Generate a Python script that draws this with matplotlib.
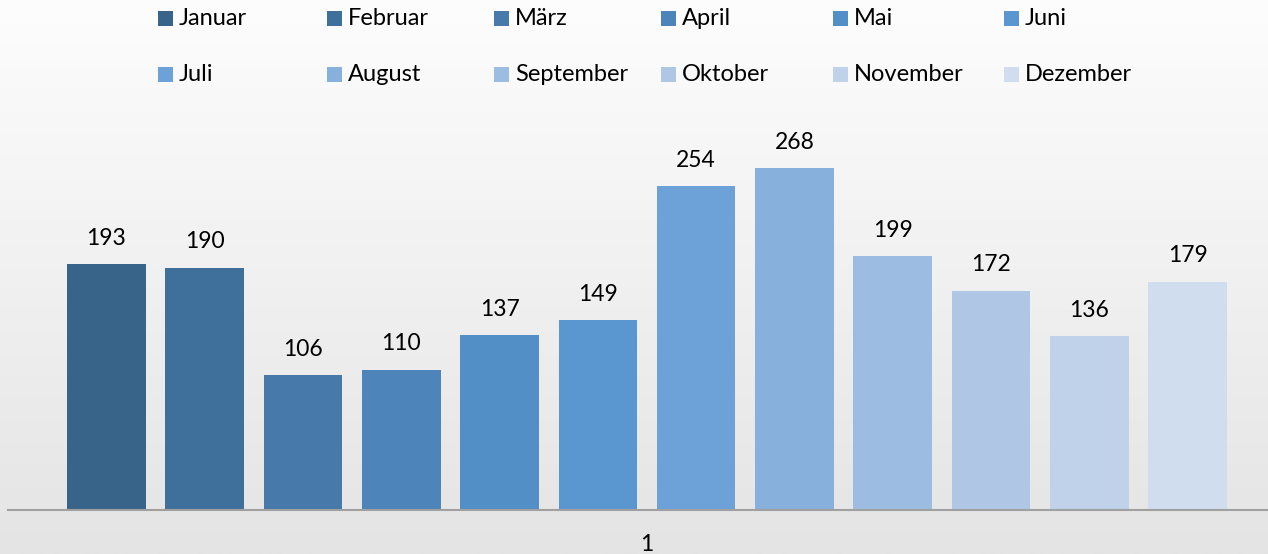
import numpy as np
import matplotlib
matplotlib.use("Agg")
import matplotlib.pyplot as plt
from matplotlib.patches import Rectangle

months = ["Januar", "Februar", "März", "April", "Mai", "Juni",
          "Juli", "August", "September", "Oktober", "November", "Dezember"]
values = [193, 190, 106, 110, 137, 149, 254, 268, 199, 172, 136, 179]
category = "1"
colors = ["#38648a", "#3f709c", "#4779ab", "#4d84b9", "#528fc6", "#5a97d1",
          "#6ca2d8", "#88b0dc", "#9dbce2", "#afc6e5", "#c0d2ea", "#d0ddee"]

plt.rcParams['font.family'] = ['Lato', 'DejaVu Sans']

W, H = 1268, 554
fig = plt.figure(figsize=(W / 100, H / 100), dpi=100)

# gradient background
bg = fig.add_axes([0, 0, 1, 1], zorder=-10)
grad = np.linspace(0, 1, 256).reshape(-1, 1)
c_top = np.array([0xfd, 0xfd, 0xfd]) / 255
c_bot = np.array([0xe4, 0xe4, 0xe4]) / 255
img = c_top[None, None, :] * (1 - grad[:, :, None]) + c_bot[None, None, :] * grad[:, :, None]
bg.imshow(img, aspect='auto', extent=[0, 1, 0, 1])
bg.set_axis_off()

# main axes: baseline at y=510 px, left at 8 px
ax_bottom = (H - 510) / H
ax_top_px = 110
ax = fig.add_axes([8 / W, ax_bottom, 1 - 8 / W, (510 - ax_top_px) / H])
ax.patch.set_alpha(0)
upp = 268 / (510 - 168)  # data units per px
ax.set_ylim(0, (510 - ax_top_px) * upp)

x = np.arange(len(values))
width = 0.8
ax.bar(x, values, width=width, color=colors, zorder=2)
ax.set_xlim(-1.0, 11.817)

for xi, v in zip(x, values):
    ax.annotate(str(v), (xi, v), xytext=(0, 18.5), textcoords='offset points',
                ha='center', va='center', fontsize=16.5, color='#000000')

for s in ['top', 'right', 'left']:
    ax.spines[s].set_visible(False)
ax.spines['bottom'].set_color('#a0a0a0')
ax.spines['bottom'].set_linewidth(1.5)
ax.set_yticks([])
ax.set_xticks([])
ax.text((x[0] + x[-1]) / 2, -34.5 * upp, category, ha='center', va='center',
        fontsize=16.5, color='#000000', transform=ax.transData, clip_on=False)

# legend, 2 rows x 6 columns
col_x = [158, 327, 494, 661, 833, 1004]
row_y = [18.5, 74.5]
sq = 15
for i, (m, c) in enumerate(zip(months, colors)):
    r, col = divmod(i, 6)
    cx, cy = col_x[col], row_y[r]
    fig.add_artist(Rectangle((cx / W, (H - cy - sq / 2) / H), sq / W, sq / H,
                             transform=fig.transFigure, facecolor=c, edgecolor='none'))
    fig.text((cx + sq + 6) / W, (H - cy) / H, m, ha='left', va='center',
             fontsize=17, color='#000000')

fig.savefig("out.png", dpi=100)
